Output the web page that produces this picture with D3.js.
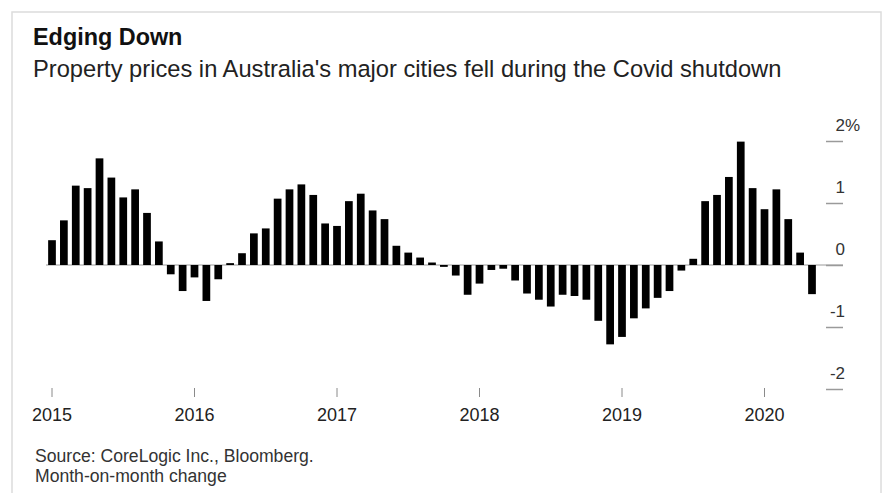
<!DOCTYPE html>
<html>
<head>
<meta charset="utf-8">
<script src="https://cdn.jsdelivr.net/npm/d3@7"></script>
<style>
  html, body { margin:0; padding:0; background:#fff; }
  svg { display:block; font-family:"Liberation Sans", Arial, sans-serif; }
</style>
</head>
<body>
<svg id="chart" width="888" height="493"></svg>
<script>
// monthly change, Jan 2015 .. May 2020 (%)
const values2015 = [0.40, 0.72, 1.28, 1.24, 1.72, 1.41, 1.09, 1.22, 0.84, 0.38, -0.15, -0.42];
const values2016 = [-0.20, -0.58, -0.23, 0.03, 0.19, 0.51, 0.59, 1.07, 1.22, 1.30, 1.13, 0.67];
const values2017 = [0.63, 1.03, 1.15, 0.88, 0.74, 0.31, 0.20, 0.12, 0.04, -0.03, -0.17, -0.48];
const values2018 = [-0.30, -0.08, -0.06, -0.25, -0.46, -0.56, -0.67, -0.48, -0.50, -0.56, -0.90, -1.28];
const values2019 = [-1.16, -0.86, -0.70, -0.53, -0.42, -0.09, 0.10, 1.03, 1.13, 1.42, 1.99, 1.24];
const values2020 = [0.90, 1.22, 0.74, 0.20, -0.47];

const years = [2015, 2016, 2017, 2018, 2019, 2020];
const yTicks = [-2, -1, 0, 1, 2];

const values = [].concat(values2015, values2016, values2017, values2018, values2019, values2020);
const months = d3.timeMonths(new Date(2015, 0, 1), new Date(2015, values.length, 1));
const data = months.map((m, i) => ({ month: m, key: d3.timeFormat('%Y-%m')(m), value: values[i] }));

const svg = d3.select('#chart');

// light frame
svg.append('rect')
    .attr('x', 12).attr('y', 12)
    .attr('width', 869).attr('height', 500)
    .attr('fill', 'none')
    .attr('stroke', '#dcdcdc')
    .attr('stroke-width', 1.5);

svg.append('text')
    .attr('x', 33).attr('y', 45)
    .attr('font-size', 23.4).attr('font-weight', 'bold')
    .attr('fill', '#111')
    .text('Edging Down');

svg.append('text')
    .attr('x', 33).attr('y', 77)
    .attr('font-size', 23.7)
    .attr('fill', '#222')
    .text("Property prices in Australia's major cities fell during the Covid shutdown");

const step = 11.875, first = 52;
const x = d3.scaleBand()
    .domain(data.map(d => d.key))
    .range([first - step / 2, first - step / 2 + step * data.length])
    .paddingInner(0.35)
    .paddingOuter(0.175);

const y = d3.scaleLinear().domain([-2, 2]).range([389, 141]);

// zero line
svg.append('line')
    .attr('x1', 46).attr('x2', 843)
    .attr('y1', y(0)).attr('y2', y(0))
    .attr('stroke', '#9a9a9a')
    .attr('stroke-width', 1);

svg.append('g')
    .selectAll('rect')
    .data(data)
    .join('rect')
    .attr('x', d => x(d.key))
    .attr('width', x.bandwidth())
    .attr('y', d => y(Math.max(0, d.value)))
    .attr('height', d => Math.abs(y(d.value) - y(0)))
    .attr('fill', '#000');

// year axis
const yearKeys = years.map(yr => yr + '-01');
const xAxis = svg.append('g')
    .attr('transform', 'translate(0,388)')
    .call(d3.axisBottom(x).tickValues(yearKeys).tickSize(9).tickPadding(11)
        .tickFormat(k => k.slice(0, 4)));
xAxis.select('.domain').remove();
xAxis.selectAll('.tick line').attr('stroke', '#8a8a8a');
xAxis.selectAll('.tick text')
    .attr('font-size', 18)
    .attr('font-family', '"Liberation Sans", Arial, sans-serif')
    .attr('fill', '#222');

// value axis on the right
const yAxis = svg.append('g')
    .attr('transform', 'translate(826,0)')
    .call(d3.axisRight(y).tickValues(yTicks).tickSize(17).tickFormat(d => String(d)));
yAxis.select('.domain').remove();
yAxis.selectAll('.tick line').attr('stroke', '#9a9a9a').attr('stroke-width', 1.5);
yAxis.selectAll('.tick text')
    .attr('x', 19).attr('y', -11).attr('dy', 0)
    .attr('text-anchor', 'end')
    .attr('font-size', 17)
    .attr('font-family', '"Liberation Sans", Arial, sans-serif')
    .attr('fill', '#333');
yAxis.selectAll('.tick').filter(d => d === 2)
    .append('text')
    .attr('x', 19).attr('y', -11)
    .attr('font-size', 17)
    .attr('font-family', '"Liberation Sans", Arial, sans-serif')
    .attr('fill', '#333')
    .text('%');

svg.append('text')
    .attr('x', 35).attr('y', 462)
    .attr('font-size', 17.6)
    .attr('fill', '#333')
    .text('Source: CoreLogic Inc., Bloomberg.');

svg.append('text')
    .attr('x', 35).attr('y', 482)
    .attr('font-size', 17.6)
    .attr('fill', '#333')
    .text('Month-on-month change');
</script>
</body>
</html>
